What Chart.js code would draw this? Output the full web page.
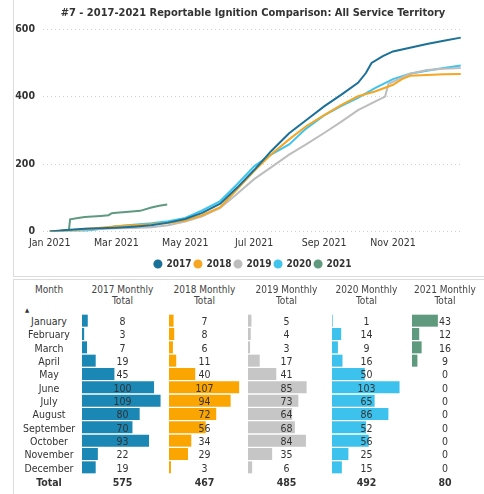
<!DOCTYPE html>
<html>
<head>
<meta charset="utf-8">
<script src="https://cdn.jsdelivr.net/npm/chart.js@4.4.0/dist/chart.umd.min.js"></script>
<style>
  body { margin:0; width:484px; height:494px; background:#fff; position:relative; overflow:hidden;
         font-family:'DejaVu Sans Condensed','DejaVu Sans',sans-serif; color:#333; }
  .panel { position:absolute; border-color:#dcdcdc; border-style:solid; border-width:0; }
  #lineBox { position:absolute; left:0; top:0; width:484px; height:276px; }
  .bars { position:absolute; top:314.33px; height:160px; width:80px; }
  .cell { position:absolute; font-size:10.5px; line-height:13px; text-align:center; white-space:nowrap;
          transform:translate(-50%,-50%); }
</style>
</head>
<body>
<div class="panel" style="left:13px;top:-1px;width:471px;height:277px;border-left-width:1px;border-bottom-width:1px;"></div>
<div class="panel" style="left:13px;top:279px;width:471px;height:220px;border-left-width:1px;border-top-width:1px;"></div>
<div id="lineBox"><canvas id="lineChart"></canvas></div>
<div id="table"></div>
<script>
// Cumulative ignitions (x = day of year)
const years = ['2017', '2018', '2019', '2020', '2021'];
const lineColors = ['#1b7197', '#f5a623', '#bdbdbd', '#3fc4ee', '#5f9a80'];

const days2017 = [0,15,31,45,59,74,90,105,120,135,151,166,181,196,212,227,243,258,273,280,285,295,304,319,334,349,364];
const cum2017  = [0,4,8,9,11,14,18,26,37,55,82,130,182,238,291,330,371,405,441,470,500,520,534,545,556,566,575];
const days2018 = [0,15,31,45,59,74,90,105,120,135,151,166,181,196,212,227,243,258,273,288,304,312,319,334,349,364];
const cum2018  = [0,3,7,11,15,18,21,25,32,48,72,125,179,228,273,312,345,375,401,415,435,452,462,464,466,467];
const days2019 = [0,15,31,45,59,74,90,105,120,135,151,166,181,196,212,227,243,258,273,288,297,300,304,319,334,349,364];
const cum2019  = [0,2,5,7,9,10,12,18,29,45,70,112,155,190,228,258,292,325,360,385,400,438,444,468,479,483,485];
const days2020 = [0,15,31,45,59,74,90,105,120,135,151,166,181,196,212,227,243,258,273,288,304,319,334,349,364];
const cum2020  = [0,0,1,8,15,20,24,30,40,62,90,140,193,228,258,305,344,372,396,425,452,468,477,485,492];
const days2021 = [0,10,17,18,25,31,45,52,55,59,70,80,90,97,104];
const cum2021  = [0,2,5,36,40,43,46,48,54,55,58,61,71,76,80];

const tickDays   = [0, 59, 120, 181, 243, 304];
const tickLabels = ['Jan 2021', 'Mar 2021', 'May 2021', 'Jul 2021', 'Sep 2021', 'Nov 2021'];

// Monthly totals table
const months = ['January','February','March','April','May','June','July','August','September','October','November','December'];
const monthly2017 = [8,3,7,19,45,100,109,80,70,93,22,19];
const monthly2018 = [7,8,6,11,40,107,94,72,56,34,29,3];
const monthly2019 = [5,4,3,17,41,85,73,64,68,84,35,6];
const monthly2020 = [1,14,9,16,50,103,65,86,52,56,25,15];
const monthly2021 = [43,12,16,9,0,0,0,0,0,0,0,0];

const allDays = [days2017, days2018, days2019, days2020, days2021];
const allCum = [cum2017, cum2018, cum2019, cum2020, cum2021];
const font = "'DejaVu Sans Condensed'";

const lineChart = new Chart(document.getElementById('lineChart'), {
    type: 'line',
    data: {
        datasets: years.map((y, i) => ({
            label: y,
            data: allDays[i].map((d, k) => ({ x: d, y: allCum[i][k] })),
            borderColor: lineColors[i],
            backgroundColor: lineColors[i],
            borderWidth: 2,
            pointRadius: 0,
            tension: 0
        }))
    },
    options: {
        responsive: true,
        maintainAspectRatio: false,
        animation: false,
        layout: { padding: { left: 0, right: 21, bottom: -3 } },
        plugins: {
            title: {
                display: true,
                fullSize: false,
                text: '#7 - 2017-2021 Reportable Ignition Comparison: All Service Territory',
                color: '#333',
                font: { size: 11, weight: 'bold', family: font },
                padding: { top: 7, bottom: 9 }
            },
            legend: {
                position: 'bottom',
                fullSize: false,
                labels: {
                    usePointStyle: true,
                    pointStyle: 'circle',
                    boxWidth: 7,
                    boxHeight: 5,
                    padding: 3,
                    color: '#333',
                    font: { size: 10, weight: 'bold', family: font }
                }
            },
            tooltip: { enabled: false }
        },
        scales: {
            x: {
                type: 'linear',
                min: -6,
                max: 366,
                grid: { display: false, drawTicks: false },
                border: { display: false },
                afterBuildTicks: axis => { axis.ticks = tickDays.map(v => ({ value: v })); },
                ticks: {
                    padding: 6,
                    maxRotation: 0,
                    color: '#333',
                    font: { size: 10.5, family: font },
                    callback: v => tickLabels[tickDays.indexOf(v)]
                }
            },
            y: {
                min: 0,
                max: 600,
                afterFit: axis => { axis.width = 43; },
                grid: { color: '#cfcfcf', drawTicks: false, lineWidth: 1 },
                border: { display: false, dash: [1, 3] },
                ticks: {
                    stepSize: 200,
                    padding: 8,
                    color: '#333',
                    font: { size: 10.5, weight: 'bold', family: font }
                }
            }
        }
    }
});

// ---- table with data bars ----
const monthlyAll = [monthly2017, monthly2018, monthly2019, monthly2020, monthly2021];
const barColors = ['#1a87b5', '#fba500', '#c6c6c6', '#3cc2ec', '#5f9a7e'];
const colLeft = [82, 169.3, 248.3, 331.7, 411.7];
const colMax = [111, 122, 116, 122, 133];
const colCenter = [122.5, 204.5, 286.5, 366.5, 445];
const monthCenter = 49;
const rowTop = 321, rowStep = 160 / 12;

const table = document.getElementById('table');
function addText(x, y, str, extra) {
    const el = document.createElement('div');
    el.className = 'cell';
    el.style.left = x + 'px';
    el.style.top = y + 'px';
    el.textContent = str;
    if (extra) Object.assign(el.style, extra);
    table.appendChild(el);
}

monthlyAll.forEach((vals, c) => {
    const box = document.createElement('div');
    box.className = 'bars';
    box.style.left = colLeft[c] + 'px';
    const cv = document.createElement('canvas');
    box.appendChild(cv);
    table.appendChild(box);
    new Chart(cv, {
        type: 'bar',
        data: {
            labels: months,
            datasets: [{ data: vals, backgroundColor: barColors[c], barPercentage: 1, categoryPercentage: 0.9 }]
        },
        options: {
            indexAxis: 'y',
            responsive: true,
            maintainAspectRatio: false,
            animation: false,
            layout: { padding: 0 },
            plugins: { legend: { display: false }, tooltip: { enabled: false } },
            scales: {
                x: { display: false, min: 0, max: colMax[c] },
                y: { display: false }
            }
        }
    });
});

// headers
addText(monthCenter, 289, 'Month', { color: '#444', fontSize: '10px' });
addText(27, 309, '\u25B2', { fontSize: '6px' });
years.forEach((y, c) => {
    addText(colCenter[c], 289, y + ' Monthly', { color: '#444', fontSize: '10px' });
    addText(colCenter[c], 300, 'Total', { color: '#444', fontSize: '10px' });
});
// rows
months.forEach((m, r) => {
    const yy = rowTop + r * rowStep;
    addText(monthCenter, yy, m);
    monthlyAll.forEach((vals, c) => addText(colCenter[c], yy, String(vals[r])));
});
// totals
addText(monthCenter, 481.7, 'Total', { fontWeight: 'bold' });
monthlyAll.forEach((vals, c) => {
    addText(colCenter[c], 481.7, String(vals.reduce((a, b) => a + b, 0)), { fontWeight: 'bold' });
});
</script>
</body>
</html>
